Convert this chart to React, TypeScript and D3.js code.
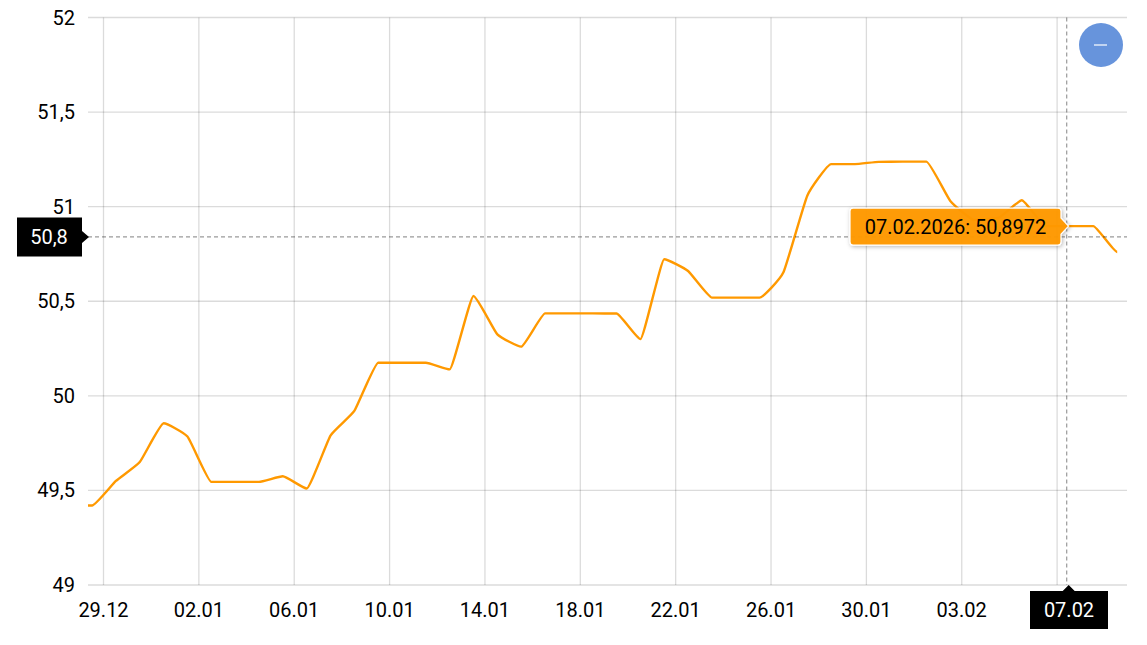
import React, { useEffect, useRef } from "react";
import * as d3 from "d3";

const WIDTH = 1147;
const HEIGHT = 645;
const FONT = "Roboto, sans-serif";
const ORANGE = "#ff9900";

// daily rates, first entry is 27.12.2025 (cut off by the plot edge)
const startDate = "2025-12-27T12:30:00Z";
const rates = [
  49.42, 49.42, 49.55, 49.65, 49.855, 49.785, 49.545, 49.545, 49.545, 49.575, 49.51,
  49.79, 49.92, 50.175, 50.175, 50.175, 50.14, 50.528, 50.325, 50.26, 50.436,
  50.436, 50.436, 50.435, 50.3, 50.722, 50.66, 50.519, 50.519, 50.519, 50.653,
  51.058, 51.225, 51.225, 51.237, 51.238, 51.238, 51.03, 50.93, 50.94, 51.034,
  50.8972, 50.8972, 50.8972, 50.76,
];

const yTicks = [49, 49.5, 50, 50.5, 51, 51.5, 52];
const xTickDates = [
  "2025-12-29", "2026-01-02", "2026-01-06", "2026-01-10", "2026-01-14", "2026-01-18",
  "2026-01-22", "2026-01-26", "2026-01-30", "2026-02-03", "2026-02-07",
];

const cursorValue = 50.84;
const cursorLabel = "50,8";
const cursorDate = "2026-02-07T09:40:00Z";
const cursorDateLabel = "07.02";
const tooltipText = "07.02.2026: 50,8972";
const selectedIndex = 42;

const DAY = 86400000;
const fmtTick = d3.utcFormat("%d.%m");
const fmtNum = (v: number) => String(v).replace(".", ",");

// Monotone-x curve with shortened control arms, so points read as soft kinks
const TENSION = 0.42;
const curveMonotoneTension = (context: any) => {
  let pts: [number, number][] = [];
  return {
    areaStart() {},
    areaEnd() {},
    lineStart() {
      pts = [];
    },
    point(px: number, py: number) {
      pts.push([+px, +py]);
    },
    lineEnd() {
      const n = pts.length;
      const slopes = pts.map((_, i) => {
        if (i === 0 || i === n - 1) return NaN;
        const h0 = pts[i][0] - pts[i - 1][0];
        const h1 = pts[i + 1][0] - pts[i][0];
        const s0 = (pts[i][1] - pts[i - 1][1]) / h0;
        const s1 = (pts[i + 1][1] - pts[i][1]) / h1;
        const p = (s0 * h1 + s1 * h0) / (h0 + h1);
        return (
          ((Math.sign(s0) + Math.sign(s1)) || 0) *
          Math.min(Math.abs(s0), Math.abs(s1), 0.5 * Math.abs(p))
        );
      });
      slopes[0] = 0;
      slopes[n - 1] = 0;
      context.moveTo(pts[0][0], pts[0][1]);
      for (let i = 1; i < n; i++) {
        const dx = ((pts[i][0] - pts[i - 1][0]) / 3) * TENSION;
        context.bezierCurveTo(
          pts[i - 1][0] + dx,
          pts[i - 1][1] + dx * slopes[i - 1],
          pts[i][0] - dx,
          pts[i][1] - dx * slopes[i],
          pts[i][0],
          pts[i][1]
        );
      }
    },
  };
};

const App = () => {
  const svgRef = useRef<SVGSVGElement | null>(null);

  useEffect(() => {
    if (!svgRef.current) return;
    const svg = d3.select(svgRef.current);
    svg.selectAll("*").remove();

    const margin = { top: 17.5, right: 20, bottom: 60, left: 88 };
    const t0 = Date.parse("2025-12-29T00:00:00Z");
    const dayPx = 23.84;

    const x = d3
      .scaleUtc()
      .domain([
        new Date(t0 - (15.5 / dayPx) * DAY),
        new Date(t0 + ((WIDTH - margin.right - 103.5) / dayPx) * DAY),
      ])
      .range([margin.left, WIDTH - margin.right]);
    const y = d3.scaleLinear().domain([49, 52]).range([HEIGHT - margin.bottom, margin.top]);

    const points = rates.map((v, i) => ({
      date: new Date(Date.parse(startDate) + i * DAY),
      value: v,
    }));

    const defs = svg.append("defs");
    defs
      .append("clipPath")
      .attr("id", "plot")
      .append("rect")
      .attr("x", margin.left)
      .attr("y", 0)
      .attr("width", WIDTH - margin.left - margin.right)
      .attr("height", HEIGHT);
    const shadow = defs.append("filter").attr("id", "tipShadow").attr("x", "-10%").attr("y", "-30%").attr("width", "120%").attr("height", "170%");
    shadow
      .append("feDropShadow")
      .attr("dx", 1)
      .attr("dy", 1)
      .attr("stdDeviation", 2)
      .attr("flood-color", "#000")
      .attr("flood-opacity", 0.3);

    // Grid
    svg
      .append("g")
      .selectAll("line")
      .data(yTicks)
      .join("line")
      .attr("x1", margin.left)
      .attr("x2", WIDTH - margin.right)
      .attr("y1", (d) => y(d))
      .attr("y2", (d) => y(d))
      .attr("stroke", "#000")
      .attr("stroke-opacity", 0.14)
      .attr("stroke-width", 1.3);
    svg
      .append("g")
      .selectAll("line")
      .data(xTickDates)
      .join("line")
      .attr("x1", (d) => x(new Date(d)))
      .attr("x2", (d) => x(new Date(d)))
      .attr("y1", margin.top)
      .attr("y2", HEIGHT - margin.bottom)
      .attr("stroke", "#000")
      .attr("stroke-opacity", 0.14)
      .attr("stroke-width", 1.3);

    // Axis labels
    svg
      .append("g")
      .selectAll("text")
      .data(yTicks)
      .join("text")
      .attr("x", 75)
      .attr("y", (d) => y(d))
      .attr("dy", "0.35em")
      .attr("text-anchor", "end")
      .attr("font-family", FONT)
      .attr("font-size", 20)
      .attr("fill", "#000")
      .text(fmtNum);
    svg
      .append("g")
      .selectAll("text")
      .data(xTickDates.filter((d) => fmtTick(new Date(d)) !== cursorDateLabel))
      .join("text")
      .attr("x", (d) => x(new Date(d)))
      .attr("y", 610)
      .attr("dy", "0.35em")
      .attr("text-anchor", "middle")
      .attr("font-family", FONT)
      .attr("font-size", 20)
      .attr("fill", "#000")
      .text((d) => fmtTick(new Date(d)));

    // Series
    const line = d3
      .line<{ date: Date; value: number }>()
      .x((d) => x(d.date))
      .y((d) => y(d.value))
      .curve(curveMonotoneTension as any);
    svg
      .append("path")
      .datum(points)
      .attr("clip-path", "url(#plot)")
      .attr("fill", "none")
      .attr("stroke", ORANGE)
      .attr("stroke-width", 2.4)
      .attr("d", line);

    // Cursor lines
    const cy = y(cursorValue);
    const cx = x(new Date(cursorDate));
    svg
      .append("line")
      .attr("x1", margin.left)
      .attr("x2", WIDTH - margin.right)
      .attr("y1", cy)
      .attr("y2", cy)
      .attr("stroke", "#000")
      .attr("stroke-opacity", 0.4)
      .attr("stroke-width", 1.2)
      .attr("stroke-dasharray", "4,3");
    svg
      .append("line")
      .attr("x1", cx)
      .attr("x2", cx)
      .attr("y1", margin.top)
      .attr("y2", HEIGHT - margin.bottom)
      .attr("stroke", "#000")
      .attr("stroke-opacity", 0.4)
      .attr("stroke-width", 1.2)
      .attr("stroke-dasharray", "4,3");

    // Y cursor badge
    const yBadge = d3.path();
    yBadge.moveTo(17, cy - 19.5);
    yBadge.lineTo(82, cy - 19.5);
    yBadge.lineTo(82, cy - 6);
    yBadge.lineTo(89, cy);
    yBadge.lineTo(82, cy + 6);
    yBadge.lineTo(82, cy + 19.5);
    yBadge.lineTo(17, cy + 19.5);
    yBadge.closePath();
    svg.append("path").attr("d", yBadge.toString()).attr("fill", "#000");
    svg
      .append("text")
      .attr("x", 49)
      .attr("y", cy)
      .attr("dy", "0.35em")
      .attr("text-anchor", "middle")
      .attr("font-family", FONT)
      .attr("font-size", 20)
      .attr("fill", "#fff")
      .text(cursorLabel);

    // X cursor badge
    const bx = cx + 2.5;
    const xBadge = d3.path();
    xBadge.moveTo(1030, 591);
    xBadge.lineTo(bx - 6.5, 591);
    xBadge.lineTo(bx - 0.5, 585);
    xBadge.lineTo(bx + 5.5, 591);
    xBadge.lineTo(1108, 591);
    xBadge.lineTo(1108, 629);
    xBadge.lineTo(1030, 629);
    xBadge.closePath();
    svg.append("path").attr("d", xBadge.toString()).attr("fill", "#000");
    svg
      .append("text")
      .attr("x", 1069)
      .attr("y", 610)
      .attr("dy", "0.35em")
      .attr("text-anchor", "middle")
      .attr("font-family", FONT)
      .attr("font-size", 20)
      .attr("fill", "#fff")
      .text(cursorDateLabel);

    // Tooltip
    const tipX = x(points[selectedIndex].date);
    const tipY = y(points[selectedIndex].value);
    const tx0 = 850;
    const tx1 = 1061;
    const ty0 = tipY - 18;
    const ty1 = tipY + 19;
    const r = 3;
    const tip = d3.path();
    tip.moveTo(tx0 + r, ty0);
    tip.lineTo(tx1 - r, ty0);
    tip.quadraticCurveTo(tx1, ty0, tx1, ty0 + r);
    tip.lineTo(tx1, tipY - 8);
    tip.lineTo(tipX - 1, tipY);
    tip.lineTo(tx1, tipY + 8);
    tip.lineTo(tx1, ty1 - r);
    tip.quadraticCurveTo(tx1, ty1, tx1 - r, ty1);
    tip.lineTo(tx0 + r, ty1);
    tip.quadraticCurveTo(tx0, ty1, tx0, ty1 - r);
    tip.lineTo(tx0, ty0 + r);
    tip.quadraticCurveTo(tx0, ty0, tx0 + r, ty0);
    tip.closePath();
    svg
      .append("path")
      .attr("d", tip.toString())
      .attr("fill", ORANGE)
      .attr("fill-opacity", 0.96)
      .attr("stroke", "#fff")
      .attr("stroke-width", 1.2)
      .attr("filter", "url(#tipShadow)");
    svg
      .append("text")
      .attr("x", (tx0 + tx1) / 2)
      .attr("y", tipY + 0.5)
      .attr("dy", "0.35em")
      .attr("text-anchor", "middle")
      .attr("font-family", FONT)
      .attr("font-size", 20)
      .attr("fill", "#000")
      .text(tooltipText);

    // Zoom-out button
    svg.append("circle").attr("cx", 1101).attr("cy", 45).attr("r", 22).attr("fill", "#6794dc");
    svg
      .append("line")
      .attr("x1", 1094)
      .attr("x2", 1107)
      .attr("y1", 45)
      .attr("y2", 45)
      .attr("stroke", "#fff")
      .attr("stroke-width", 1.2);
  }, []);

  return (
    <svg
      ref={svgRef}
      width={WIDTH}
      height={HEIGHT}
      style={{ position: "fixed", left: 0, top: 0, display: "block", background: "#fff" }}
    ></svg>
  );
};

export default App;
